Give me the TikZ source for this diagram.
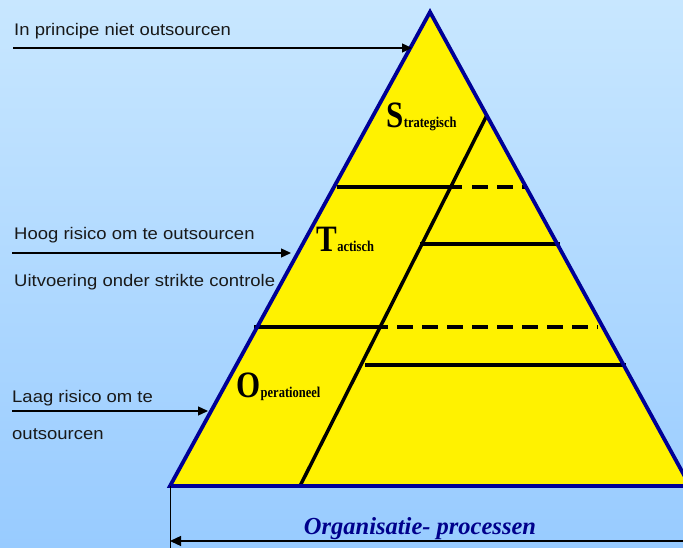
\documentclass[tikz,border=0pt]{standalone}
\usepackage{fontspec}
\setmainfont{Liberation Serif}
\newfontfamily\arialfont{Liberation Sans}
\usetikzlibrary{arrows.meta}

\definecolor{skytop}{RGB}{200,231,255}
\definecolor{skybottom}{RGB}{152,203,255}
\definecolor{rim}{RGB}{0,0,150}
\definecolor{deepblue}{RGB}{0,0,140}

\tikzset{
  side/.style={anchor=base west, inner sep=0pt, font=\arialfont\fontsize{16.8}{18}\selectfont, xscale=1.1, text=black!90},
  ptr/.style={line width=1.3pt, -{Triangle[length=10pt,width=9pt]}},
  bar/.style={line width=4.5pt},
  dashbar/.style={line width=4.5pt, dash pattern=on 16pt off 9pt},
  levelbig/.style={anchor=base west, inner sep=0pt, font=\bfseries\fontsize{31}{31}\selectfont, yscale=1.2},
  levelsmall/.style={anchor=base west, inner sep=0pt, font=\bfseries\fontsize{12.5}{13}\selectfont, yscale=1.2},
}

\begin{document}
\begin{tikzpicture}[x=1pt,y=-1pt]
  \useasboundingbox (0,0) rectangle (683,548);
  \clip (0,0) rectangle (683,548);

  % sky background
  \shade[top color=skytop, bottom color=skybottom] (0,0) rectangle (683,548);

  % pyramid corners
  \coordinate (apex) at (430,12);
  \coordinate (baseL) at (170,486);
  \coordinate (baseR) at (690,486);

  \fill[yellow] (apex) -- (baseL) -- (baseR) -- cycle;

  % slanted divider
  \coordinate (slantT) at (487,115);
  \coordinate (slantB) at (300,486);
  \draw[line width=3.5pt] (slantT) -- (slantB);

  % level separators
  \coordinate (h1a) at (337,187);
  \coordinate (h1b) at (462,187);
  \coordinate (h1c) at (472,187);
  \coordinate (h1d) at (525,187);
  \draw[bar] (h1a) -- (h1b);
  \draw[dashbar] (h1c) -- (h1d);

  \coordinate (h2a) at (420,244);
  \coordinate (h2b) at (560,244);
  \draw[bar] (h2a) -- (h2b);

  \coordinate (h3a) at (254,327);
  \coordinate (h3b) at (388,327);
  \coordinate (h3c) at (397,327);
  \coordinate (h3d) at (598,327);
  \draw[bar] (h3a) -- (h3b);
  \draw[dashbar] (h3c) -- (h3d);

  \coordinate (h4a) at (365,365);
  \coordinate (h4b) at (626,365);
  \draw[bar] (h4a) -- (h4b);

  % pyramid outline
  \draw[rim, line width=3.8pt, line join=miter] (baseR) -- (apex) -- (baseL) -- cycle;

  % level names
  \node[levelbig] (sBig) at (386,128) {S};
  \node[levelsmall] (sRest) at (sBig.base east) {trategisch};
  \node[levelbig] (tBig) at (316,252) {T};
  \node[levelsmall] (tRest) at (tBig.base east) {actisch};
  \node[levelbig] (oBig) at (236,397) {O};
  \node[levelsmall] (oRest) at (oBig.base east) {perationeel};

  % side remarks with pointers
  \node[side] (t1) at (14,36) {In principe niet outsourcen};
  \coordinate (p1s) at (13,48);
  \coordinate (p1e) at (412,48);
  \draw[ptr] (p1s) -- (p1e);

  \node[side] (t2) at (14,240) {Hoog risico om te outsourcen};
  \coordinate (p2s) at (12,253);
  \coordinate (p2e) at (291,253);
  \draw[ptr] (p2s) -- (p2e);
  \node[side] (t3) at (14,287) {Uitvoering onder strikte controle};

  \node[side] (t4) at (12,402) {Laag risico om te};
  \coordinate (p4s) at (12,411);
  \coordinate (p4e) at (208,411);
  \draw[ptr] (p4s) -- (p4e);
  \node[side] (t5) at (12,439) {outsourcen};

  % width dimension
  \coordinate (dimTop) at (170,486);
  \coordinate (dimBot) at (170,548);
  \draw[line width=1pt] (dimTop) -- (dimBot);
  \coordinate (dimL) at (170,541);
  \coordinate (dimR) at (700,541);
  \draw[line width=1.3pt, {Triangle[length=11pt,width=10pt]}-{Triangle[length=11pt,width=10pt]}] (dimL) -- (dimR);
  \node[anchor=base, inner sep=0pt, text=deepblue, font=\bfseries\itshape\fontsize{24.5}{26}\selectfont] (proc) at (420,534) {Organisatie- processen};
\end{tikzpicture}
\end{document}
